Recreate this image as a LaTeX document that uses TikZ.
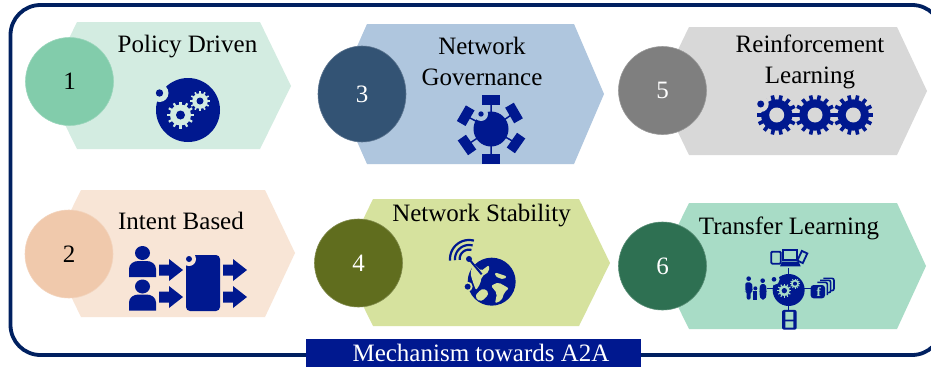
\documentclass[tikz,border=0pt]{standalone}
\usepackage{fontspec}
\setmainfont{Liberation Serif}
\usetikzlibrary{shapes.geometric}
\definecolor{iconblue}{HTML}{00188F}
\definecolor{framenavy}{HTML}{002060}
\definecolor{hexA}{HTML}{D3ECE1}\definecolor{discA}{HTML}{82CCAB}
\definecolor{hexB}{HTML}{F8E5D6}\definecolor{discB}{HTML}{F0C9AC}
\definecolor{hexC}{HTML}{AFC6DE}\definecolor{discC}{HTML}{335374}
\definecolor{hexD}{HTML}{D6E29E}\definecolor{discD}{HTML}{606D1E}
\definecolor{hexE}{HTML}{D8D8D8}\definecolor{discE}{HTML}{7F7F7F}
\definecolor{hexF}{HTML}{A8DCC6}\definecolor{discF}{HTML}{2E7052}
\tikzset{
  label text/.style={font=\fontsize{25}{25}\selectfont,text=black,anchor=base,inner sep=0pt},
  num disc/.style={ellipse,inner sep=0pt,draw=#1!80!white,line width=.6pt,font=\fontsize{25}{25}\selectfont},
  icon/.style={fill=iconblue,draw=none},
  spoke/.style={draw=iconblue,line width=1.5pt},
}
% gear: x, y, outer radius, teeth, colour, hole radius, hole colour, tooth width
\newcommand{\gearicon}[8]{%
  \begin{scope}[shift={(#1,#2)}]
    \fill[#5] (0,0) circle ({#3*0.78});
    \foreach \i in {1,...,#4}{
      \pgfmathsetmacro\ang{360*\i/#4}
      \draw[#5,line width=#8pt] (\ang:{#3*0.7}) -- (\ang:#3);
    }
    \fill[#7] (0,0) circle (#6);
  \end{scope}}
\newcommand{\notchdot}[5]{% x y halo r dot r colour
  \fill[#5] (#1,#2) circle (#3);
  \fill[iconblue] (#1,#2) circle (#4);}
\newcommand{\arrowicon}[2]{%
  \fill[icon,shift={(#1,#2)}] (0,-5.5) -- (10,-5.5) -- (10,-11) -- (24,0) -- (10,11) -- (10,5.5) -- (0,5.5) -- cycle;}
\newcommand{\personicon}[2]{%
  \fill[icon,shift={(#1,#2)}] (0,0) ellipse (7.5 and 7)
    (-13.5,24) -- (-13.5,16) .. controls (-13.5,11) and (-9,8) .. (-4,8) -- (4,8) .. controls (9,8) and (13.5,11) .. (13.5,16) -- (13.5,24) -- cycle;}
\newcommand{\plaque}[3]{% centre x y rotation
  \fill[icon,shift={(#1,#2)},rotate=#3] (-9,-5) rectangle (9,5);}
\begin{document}
\begin{tikzpicture}[x=1pt,y=-1pt]
\clip (0,0) rectangle (931,367);
\fill[white] (0,0) rectangle (931,367);
% frame
\draw[framenavy,line width=3.8pt,rounded corners=30pt] (10.5,5) rectangle (942,355);
% hexagons
\fill[hexA] (77,22) -- (260,22) -- (291,86) -- (260,149) -- (77,149) -- (46,86) -- cycle;
\fill[hexB] (81,190) -- (265,190) -- (295,253) -- (265,317) -- (81,317) -- (50,253) -- cycle;
\fill[hexC] (367,24) -- (574,24) -- (604,94) -- (574,164) -- (367,164) -- (336,94) -- cycle;
\fill[hexD] (373,199) -- (579,199) -- (610,263) -- (579,326) -- (373,326) -- (342,263) -- cycle;
\fill[hexE] (689,27) -- (897,27) -- (927,91) -- (897,155) -- (689,155) -- (658,91) -- cycle;
\fill[hexF] (689,203) -- (897,203) -- (926,266) -- (897,329) -- (689,329) -- (658,266) -- cycle;
% numbered discs
\node[num disc=discA,fill=discA,minimum width=88pt,minimum height=88pt,text=black] (d1) at (69.5,81.5) {1};
\node[num disc=discB,fill=discB,minimum width=88pt,minimum height=88pt,text=black] (d2) at (69,254) {2};
\node[num disc=discC,fill=discC,minimum width=88pt,minimum height=96pt,text=white] (d3) at (362,94) {3};
\node[num disc=discD,fill=discD,minimum width=88pt,minimum height=88pt,text=white] (d4) at (358.5,263) {4};
\node[num disc=discE,fill=discE,minimum width=88pt,minimum height=88pt,text=white] (d5) at (662.5,90.5) {5};
\node[num disc=discF,fill=discF,minimum width=88pt,minimum height=88pt,text=white] (d6) at (662.5,266) {6};
% labels
\node[label text] (t1) at (187.5,52.7) {Policy Driven};
\node[label text] (t2) at (181,229) {Intent Based};
\node[label text] (t3a) at (482,54.5) {Network};
\node[label text] (t3b) at (482,85) {Governance};
\node[label text] (t4) at (481.5,221.7) {Network Stability};
\node[label text] (t5a) at (810,52.7) {Reinforcement};
\node[label text] (t5b) at (810,83) {Learning};
\node[label text] (t6) at (789,234) {Transfer Learning};
% icon 1
\fill[icon] (188,110) circle (32);
\notchdot{159.5}{93}{9}{3.7}{hexA}
\gearicon{180.5}{115}{13.5}{12}{hexA}{4.5}{iconblue}{2.2}
\gearicon{200}{101}{10}{12}{hexA}{3.5}{iconblue}{1.6}
% icon 2
\personicon{142.5}{253}
\personicon{142.5}{286.5}
\arrowicon{159}{270}
\arrowicon{159}{297}
\fill[icon,rounded corners=4pt] (186,255) rectangle (220,311);
\notchdot{189}{259}{7}{3}{hexB}
\arrowicon{223}{270}
\arrowicon{223}{297}
% icon 3
\draw[spoke] (491,129) -- (491,100) (491,129) -- (491,159)
  (491,129) -- (465.7,115.7) (491,129) -- (514,113)
  (491,129) -- (467,145) (491,129) -- (516,143);
\fill[icon] (491,129) circle (17.5);
\notchdot{481}{114}{7}{2.7}{hexC}
\plaque{491}{100}{0}
\plaque{491}{159}{0}
\plaque{465.7}{115.7}{60}
\plaque{514}{113}{-60}
\plaque{467}{145}{-55}
\plaque{516}{143}{55}
% icon 4
\begin{scope}[shift={(445,235)},x=.3333pt,y=-.3333pt]
  \fill[icon] (140,140) circle (72);
  \fill[hexD,rounded corners=2pt] (85,84) -- (108,108) -- (132,90) -- (132,110) -- (110,125) -- (106,146) -- (93,166) -- (84,142) -- (76,115) -- cycle;
  \fill[hexD,rounded corners=2pt] (98,172) -- (115,160) -- (132,172) -- (122,190) -- (104,200) -- (90,186) -- cycle;
  \fill[hexD,rounded corners=2pt] (150,112) -- (186,124) -- (176,134) -- (150,124) -- cycle;
  \fill[hexD,rounded corners=2pt] (138,152) -- (160,142) -- (192,160) -- (178,172) -- (170,196) -- (150,205) -- (156,175) -- cycle;
  \fill[hexD] (68,155) circle (15);
  \draw[iconblue,line width=2pt] (72,72) -- (110,118);
  \fill[icon] (72,72) circle (9);
  \fill[icon] (68,155) circle (9);
  \foreach \rr in {28,42,57}
    \draw[iconblue,line width=2.2pt] plot[domain=175:285,samples=20] ({72+\rr*cos(\x)},{72+\rr*sin(\x)});
\end{scope}
% icon 5
\gearicon{776.7}{115}{20}{14}{iconblue}{7.5}{hexE}{3.6}
\gearicon{815}{115}{20}{14}{iconblue}{7.5}{hexE}{3.6}
\gearicon{853.3}{115}{20}{14}{iconblue}{7.5}{hexE}{3.6}
\notchdot{760.7}{104}{8}{3.5}{hexE}
% icon 6
\begin{scope}[shift={(740,245)},x=.3333pt,y=-.3333pt]
  \draw[spoke,line width=1.4pt] (146,70) -- (146,200) (80,130) -- (215,130);
  \fill[icon] (146,135) circle (48);
  \notchdot{102}{103}{17}{7}{hexF}
  \gearicon{133}{137}{21}{12}{hexF}{8}{iconblue}{1.1}
  \gearicon{165}{116}{15}{12}{hexF}{6}{iconblue}{.9}
  % devices
  \draw[iconblue,line width=1.8pt,rounded corners=1pt] (94,20) rectangle (122,56);
  \draw[iconblue,line width=1.8pt] (130,16) rectangle (170,46);
  \fill[icon] (126,50) -- (176,50) -- (182,64) -- (120,64) -- cycle;
  \draw[iconblue,line width=1.8pt,rotate around={-25:(187,36)}] (178,20) rectangle (196,52);
  % family
  \fill[icon] (26,101) circle (7) (68,107) circle (7) (46,130) circle (6);
  \fill[icon,rounded corners=2pt] (16,112) -- (36,112) -- (38,140) -- (32,140) -- (32,164) -- (20,164) -- (20,140) -- (16,140) -- cycle;
  \fill[icon,rounded corners=2pt] (60,117) -- (78,117) -- (80,145) -- (76,164) -- (62,164) -- (58,145) -- cycle;
  \fill[icon] (40,138) rectangle (52,164);
  % f stack
  \draw[iconblue,line width=1.6pt,rounded corners=2pt] (250,100) -- (282,100) -- (282,137) -- (270,137);
  \draw[iconblue,line width=1.6pt,rounded corners=2pt] (240,106) -- (272,106) -- (272,143) -- (262,143);
  \draw[iconblue,line width=1.6pt,rounded corners=2pt] (232,112) -- (262,112) -- (262,150);
  \fill[icon,rounded corners=3pt] (212,120) rectangle (255,160);
  \node[font=\bfseries\fontsize{13}{13}\selectfont,text=hexF,inner sep=0pt] (ficon) at (236,140) {f};
  % film
  \fill[icon,rounded corners=2pt] (126,195) rectangle (170,254);
  \fill[hexF] (136,201) rectangle (160,224) (136,229) rectangle (160,248);
\end{scope}
% banner
\fill[iconblue] (306,339) rectangle (641,367);
\node[label text,text=white] (banner) at (481,361.7) {Mechanism towards A2A};
\end{tikzpicture}
\end{document}
